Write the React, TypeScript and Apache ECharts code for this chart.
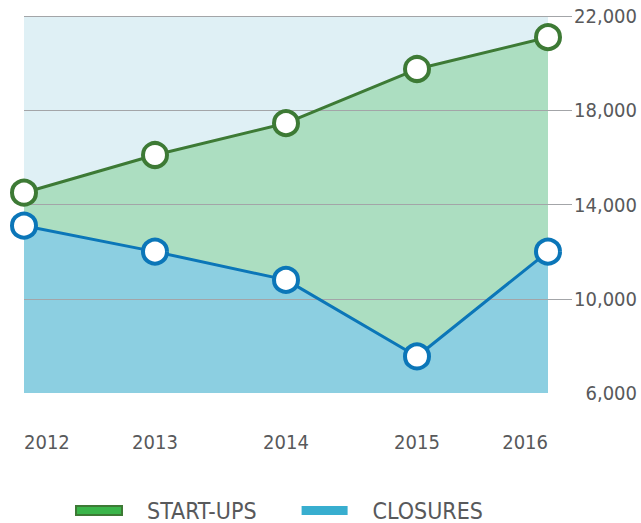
import React, { useEffect, useRef } from "react";
import * as echarts from "echarts";

const years = ["2012", "2013", "2014", "2015", "2016"];
const startUps = [14500, 16100, 17450, 19750, 21100];
const closures = [13100, 12000, 10800, 7550, 12000];
const yTicks = [10000, 14000, 18000, 22000];

const FONT = "'Liberation Sans Narrow', 'DejaVu Sans Condensed', 'Roboto Condensed', sans-serif";
const TEXT = "#58595b";
const GRID = "#a3a5a8";

export default function App() {
  const ref = useRef<HTMLDivElement>(null);
  useEffect(() => {
    if (!ref.current) return;
    const chart = echarts.init(ref.current, null, { renderer: "svg" });
    chart.setOption({
      animation: false,
      backgroundColor: "#ffffff",
      textStyle: { fontFamily: FONT },
      grid: {
        left: 24,
        right: 93,
        top: 16,
        bottom: 130,
        show: true,
        backgroundColor: "#dff0f5",
        borderWidth: 0,
      },
      legend: {
        left: 70,
        top: 494,
        itemWidth: 46,
        itemHeight: 9,
        itemGap: 45,
        icon: "rect",
        textStyle: { fontFamily: FONT, fontSize: 23, color: TEXT, padding: [0, 0, 0, 20] },
        data: [
          { name: "START-UPS", itemStyle: { color: "#3ab54a", borderColor: "#3d7a35", borderWidth: 2 } },
          { name: "CLOSURES", itemStyle: { color: "#38aecf", borderWidth: 0 } },
        ],
      },
      xAxis: {
        type: "category",
        data: years,
        boundaryGap: false,
        axisLine: { show: false },
        axisTick: { show: false },
        splitLine: { show: false },
        axisLabel: {
          margin: 39,
          fontFamily: FONT,
          fontSize: 20,
          color: TEXT,
          alignMinLabel: "left",
          alignMaxLabel: "right",
        },
      },
      yAxis: {
        type: "value",
        position: "right",
        min: 6000,
        max: 22000,
        interval: 4000,
        z: 2,
        axisLine: { show: false },
        axisTick: {
          show: true,
          length: 24,
          customValues: yTicks,
          lineStyle: { color: GRID, width: 1 },
        },
        splitLine: { show: true, lineStyle: { color: GRID, width: 1 } },
        axisLabel: {
          margin: 89,
          align: "right",
          fontFamily: FONT,
          fontSize: 20,
          color: TEXT,
          formatter: (v: number) => v.toLocaleString("en-US"),
        },
      },
      series: [
        {
          name: "START-UPS",
          type: "line",
          data: startUps,
          z: 1,
          symbol: "none",
          lineStyle: { width: 0 },
          areaStyle: { color: "#acdec1", opacity: 1 },
          silent: true,
        },
        {
          name: "CLOSURES",
          type: "line",
          data: closures,
          z: 1.5,
          symbol: "none",
          lineStyle: { width: 0 },
          areaStyle: { color: "#8ccfe1", opacity: 1 },
          silent: true,
        },
        {
          name: "START-UPS",
          type: "line",
          data: startUps,
          z: 3,
          symbol: "circle",
          symbolSize: 24,
          showAllSymbol: true,
          lineStyle: { color: "#3d7a35", width: 3 },
          itemStyle: { color: "#ffffff", borderColor: "#3d7a35", borderWidth: 4 },
        },
        {
          name: "CLOSURES",
          type: "line",
          data: closures,
          z: 3,
          symbol: "circle",
          symbolSize: 24,
          showAllSymbol: true,
          lineStyle: { color: "#0b76b8", width: 3 },
          itemStyle: { color: "#ffffff", borderColor: "#0b76b8", borderWidth: 4 },
        },
      ],
    });
    return () => chart.dispose();
  }, []);
  return <div ref={ref} style={{ width: 641, height: 523, position: "absolute", left: 0, top: 0 }} />;
}
